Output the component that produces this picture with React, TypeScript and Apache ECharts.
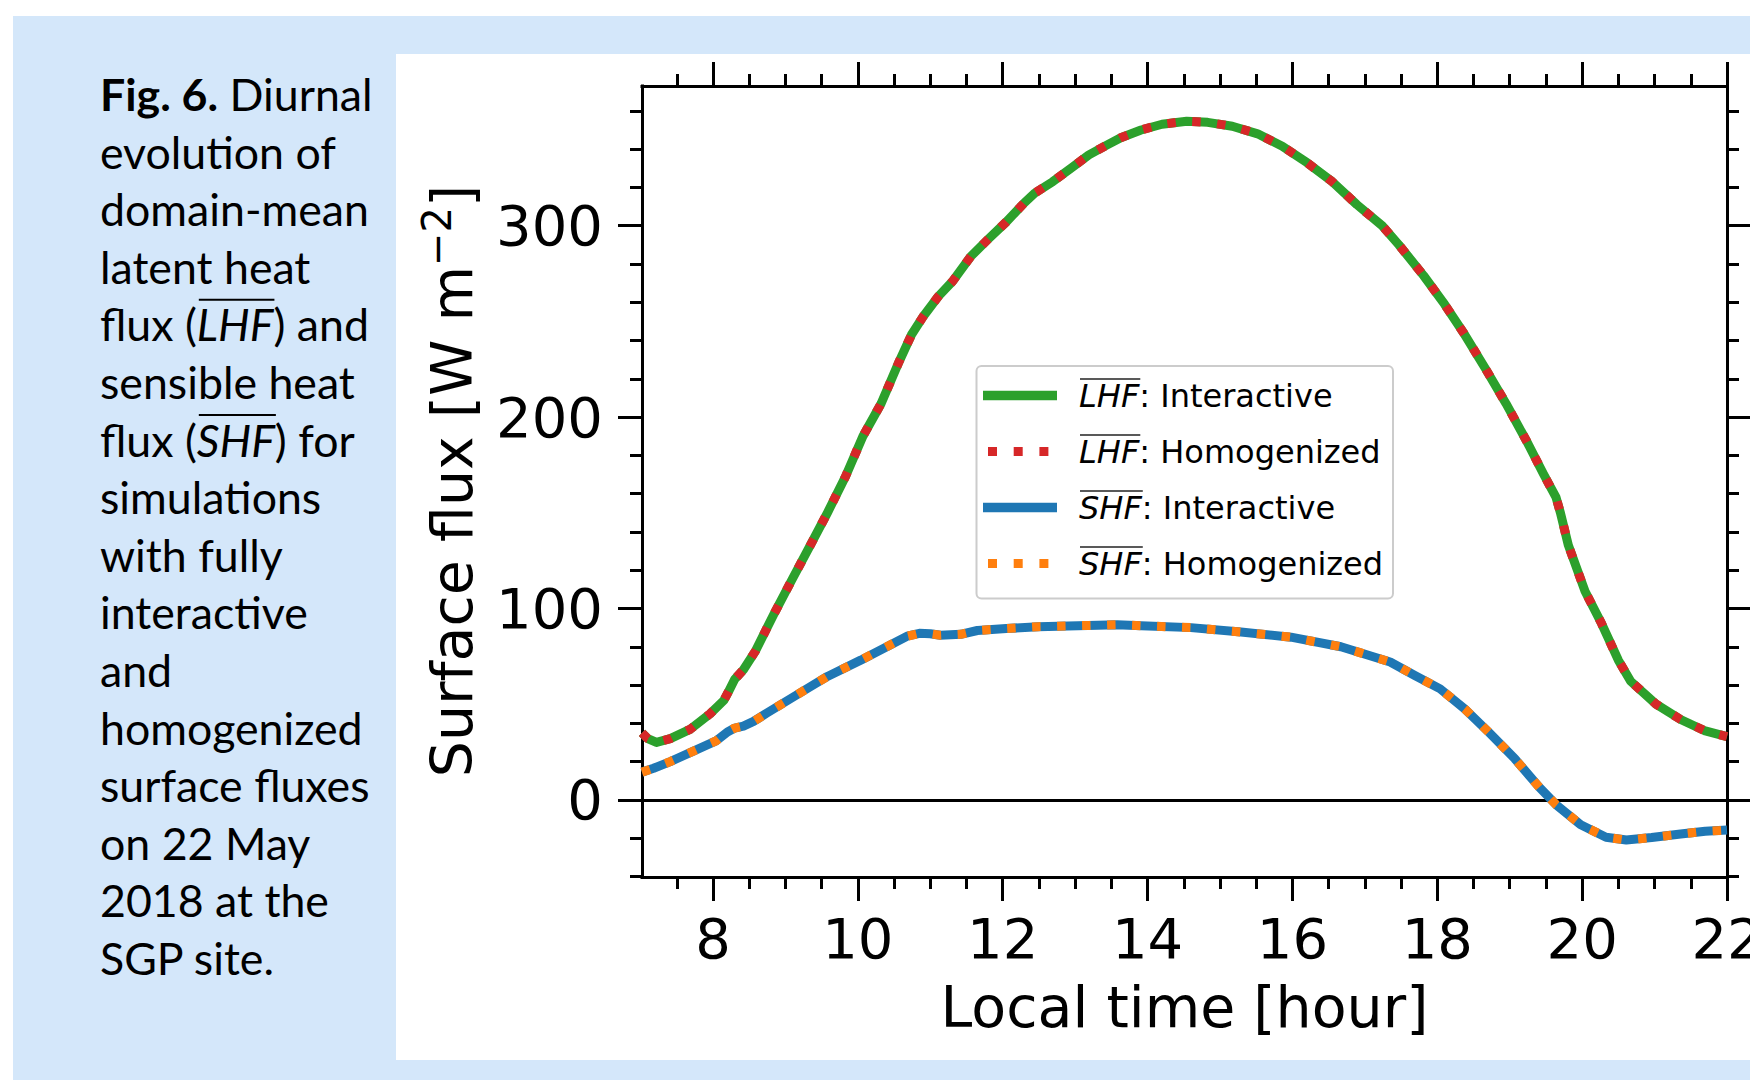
import React, { useEffect, useRef } from 'react';
import * as echarts from 'echarts';

// ---- data ----
const lhfHours = [7.02, 7.1, 7.22, 7.41, 7.69, 7.96, 8.15, 8.22, 8.3, 8.42, 8.59, 8.84, 9.09, 9.33, 9.58, 9.83, 10.07, 10.32, 10.57, 10.74, 10.91, 11.11, 11.31, 11.56, 11.8, 12.05, 12.3, 12.44, 12.69, 12.94, 13.19, 13.43, 13.63, 13.91, 14.2, 14.54, 14.83, 15.17, 15.52, 15.86, 16.2, 16.55, 16.89, 17.24, 17.47, 17.81, 18.1, 18.38, 18.67, 18.95, 19.24, 19.47, 19.64, 19.7, 19.81, 20.04, 20.27, 20.5, 20.67, 21.02, 21.36, 21.7, 22.0];
const lhfInteractive = [35, 32, 30, 32, 37, 45, 52, 57, 63, 68, 78, 97, 115, 132, 150, 169, 190, 207, 229, 243, 253, 263, 271, 284, 293, 302, 312, 317, 323, 330, 337, 342, 346, 350, 353, 354.6, 354, 352, 348, 341.5, 333, 323, 311, 300, 290, 274, 259, 243, 225, 207, 187, 170, 158, 150, 133, 109, 92, 73, 62, 50, 42, 36, 33];
const lhfHomogenized = [35, 32, 30, 32, 37, 45, 52, 57, 63, 68, 78, 97, 115, 132, 150, 169, 190, 207, 229, 243, 253, 263, 271, 284, 293, 302, 312, 317, 323, 330, 337, 342, 346, 350, 353, 354.6, 354, 352, 348, 341.5, 333, 323, 311, 300, 290, 274, 259, 243, 225, 207, 187, 170, 158, 150, 133, 109, 92, 73, 62, 50, 42, 36, 33];

const shfHours = [7.02, 7.18, 7.41, 7.73, 8.05, 8.2, 8.3, 8.42, 8.56, 8.75, 9.12, 9.58, 10.04, 10.5, 10.68, 10.85, 11.0, 11.14, 11.42, 11.65, 12.05, 12.49, 13.04, 13.58, 13.91, 14.6, 15.29, 15.98, 16.67, 17.35, 17.69, 18.04, 18.38, 18.72, 19.07, 19.41, 19.64, 19.98, 20.33, 20.61, 20.96, 21.36, 21.7, 22.0];
const shfInteractive = [14.5, 16.5, 20, 25.5, 31, 35.5, 37.5, 38.5, 41, 45.5, 54, 64.5, 73, 82, 85.5, 87, 86.8, 86, 86.5, 88.5, 89.5, 90.5, 91, 91.5, 91, 90, 87.7, 85, 80, 72, 65, 58, 47.5, 35, 21.5, 6.5, -2.5, -13, -19.5, -21, -19.7, -17.8, -16.4, -15.8];
const shfHomogenized = [14.5, 16.5, 20, 25.5, 31, 35.5, 37.5, 38.5, 41, 45.5, 54, 64.5, 73, 82, 85.5, 87, 86.8, 86, 86.5, 88.5, 89.5, 90.5, 91, 91.5, 91, 90, 87.7, 85, 80, 72, 65, 58, 47.5, 35, 21.5, 6.5, -2.5, -13, -19.5, -21, -19.7, -17.8, -16.4, -15.8];

const xMajorTicks = [8, 10, 12, 14, 16, 18, 20, 22];
const xMinorTicks = [7.5, 8.5, 9, 9.5, 10.5, 11, 11.5, 12.5, 13, 13.5, 14.5, 15, 15.5, 16.5, 17, 17.5, 18.5, 19, 19.5, 20.5, 21, 21.5];
const yMajorTicks = [0, 100, 200, 300];
const yMinorTicks = [-40, -20, 20, 40, 60, 80, 120, 140, 160, 180, 220, 240, 260, 280, 320, 340, 360];

const xLabel = 'Local time [hour]';
const yLabelMain = 'Surface flux [W m';
const yLabelSup = '\u22122';
const legendSymbols = ['LHF', 'LHF', 'SHF', 'SHF'];
const legendLabels = [': Interactive', ': Homogenized', ': Interactive', ': Homogenized'];

const captionLines = [
  'Fig. 6.| Diurnal',
  'evolution of',
  'domain-mean',
  'latent heat',
  'flux (|LHF|) and',
  'sensible heat',
  'flux (|SHF|) for',
  'simulations',
  'with fully',
  'interactive',
  'and',
  'homogenized',
  'surface fluxes',
  'on 22 May',
  '2018 at the',
  'SGP site.',
];

// ---- styling ----
const GREEN = '#2ca02c';
const RED = '#d62728';
const BLUE = '#1f77b4';
const ORANGE = '#ff7f0e';
const BG_BLUE = '#d4e7fa';
const MPL_FONT = 'DejaVu Sans';
const CAP_FONT = 'Lato';

function measure(text: string, font: string): number {
  const ctx = document.createElement('canvas').getContext('2d') as CanvasRenderingContext2D;
  ctx.font = font;
  return ctx.measureText(text).width;
}

const pair = (hs: number[], vs: number[]) => hs.map((h, i) => [h, vs[i]]);

export default function App() {
  const ref = useRef<HTMLDivElement>(null);

  useEffect(() => {
    if (!ref.current) return;
    const chart = echarts.init(ref.current, undefined, { renderer: 'svg' });

    const gridLeft = 642;
    const gridTop = 86;
    const gridRight = 1727;
    const gridBottom = 877;

    const tickFont = 56;
    const titleFont = 57;
    const spine = { color: '#000', width: 3, cap: 'square' as const };

    const xBase = { type: 'value' as const, min: 7.02, max: 22, splitLine: { show: false }, gridIndex: 0 };
    const yBase = { type: 'value' as const, min: -40.3, max: 373, splitLine: { show: false }, gridIndex: 0 };

    const xAxes = [
      {
        ...xBase, position: 'bottom',
        axisLine: { show: true, onZero: false, lineStyle: spine },
        axisTick: { show: true, inside: false, length: 24, customValues: xMajorTicks, lineStyle: { color: '#000', width: 3 } },
        axisLabel: { show: true, customValues: xMajorTicks, margin: 33, fontSize: tickFont, fontFamily: MPL_FONT, color: '#000' },
        name: xLabel, nameLocation: 'middle', nameGap: 101,
        nameTextStyle: { fontSize: titleFont, fontFamily: MPL_FONT, color: '#000' },
      },
      {
        ...xBase, position: 'bottom',
        axisLine: { show: false, onZero: false },
        axisTick: { show: true, inside: false, length: 12, customValues: xMinorTicks, lineStyle: { color: '#000', width: 3 } },
        axisLabel: { show: false },
      },
      {
        ...xBase, position: 'top',
        axisLine: { show: true, onZero: false, lineStyle: spine },
        axisTick: { show: true, inside: false, length: 24, customValues: xMajorTicks, lineStyle: { color: '#000', width: 3 } },
        axisLabel: { show: false },
      },
      {
        ...xBase, position: 'top',
        axisLine: { show: false, onZero: false },
        axisTick: { show: true, inside: false, length: 12, customValues: xMinorTicks, lineStyle: { color: '#000', width: 3 } },
        axisLabel: { show: false },
      },
    ];

    const yAxes = [
      {
        ...yBase, position: 'left',
        axisLine: { show: true, onZero: false, lineStyle: spine },
        axisTick: { show: true, inside: false, length: 24, customValues: yMajorTicks, lineStyle: { color: '#000', width: 3 } },
        axisLabel: { show: true, customValues: yMajorTicks, margin: 39, fontSize: tickFont, fontFamily: MPL_FONT, color: '#000' },
      },
      {
        ...yBase, position: 'left',
        axisLine: { show: false, onZero: false },
        axisTick: { show: true, inside: false, length: 12, customValues: yMinorTicks, lineStyle: { color: '#000', width: 3 } },
        axisLabel: { show: false },
      },
      {
        ...yBase, position: 'right',
        axisLine: { show: true, onZero: false, lineStyle: spine },
        axisTick: { show: true, inside: false, length: 24, customValues: yMajorTicks, lineStyle: { color: '#000', width: 3 } },
        axisLabel: { show: false },
      },
      {
        ...yBase, position: 'right',
        axisLine: { show: false, onZero: false },
        axisTick: { show: true, inside: false, length: 12, customValues: yMinorTicks, lineStyle: { color: '#000', width: 3 } },
        axisLabel: { show: false },
      },
    ];

    const solidW = 9;
    const dotW = 9;
    const dotDash = [8.5, 16.5];

    const lineSeries = (name: string, data: number[][], color: string, dotted: boolean, z: number) => ({
      type: 'line', name, data, xAxisIndex: 0, yAxisIndex: 0,
      showSymbol: false, symbol: 'none', smooth: false, z,
      lineStyle: dotted
        ? { color, width: dotW, type: dotDash, cap: 'butt', join: 'round' }
        : { color, width: solidW, type: 'solid', cap: 'butt', join: 'round' },
      emphasis: { disabled: true },
    });

    // ---- caption ----
    const capFs = (100 * 269) / measure('domain-mean', `100px ${CAP_FONT}`);
    const capFont = `${capFs}px ${CAP_FONT}`;
    const capItalic = `italic ${capFs}px ${CAP_FONT}`;
    const capX = 100;
    const capY0 = 94;
    const capStep = 57.6;

    const graphics: any[] = [];
    graphics.push({ type: 'rect', z: -100, silent: true, shape: { x: 13, y: 16, width: 1750 - 13, height: 1080 - 16 }, style: { fill: BG_BLUE } });
    graphics.push({ type: 'rect', z: -99, silent: true, shape: { x: 396, y: 54, width: 1750 - 396, height: 1060 - 54 }, style: { fill: '#ffffff' } });

    captionLines.forEach((line, i) => {
      const y = capY0 + i * capStep;
      const parts = line.split('|');
      let text = line;
      if (i === 0) {
        text = `{b|${parts[0]}}${parts[1]}`;
      } else if (parts.length === 3) {
        text = `${parts[0]}{i|${parts[1]}}${parts[2]}`;
        const x1 = capX + measure(parts[0], capFont);
        const x2 = x1 + measure(parts[1], capItalic);
        graphics.push({
          type: 'line', z: 10, silent: true,
          shape: { x1: x1 + 2, y1: y - 0.55 * capFs, x2: x2 + 1, y2: y - 0.55 * capFs },
          style: { stroke: '#000', lineWidth: 2 },
        });
      }
      graphics.push({
        type: 'text', z: 10, silent: true, x: capX, y,
        style: {
          text, fontSize: capFs, fontFamily: CAP_FONT, fill: '#000', align: 'left', verticalAlign: 'middle',
          rich: {
            b: { fontSize: capFs, fontFamily: CAP_FONT, fontWeight: 'bold', fill: '#000' },
            i: { fontSize: capFs, fontFamily: CAP_FONT, fontStyle: 'italic', fill: '#000' },
          },
        },
      });
    });

    // ---- y axis title ----
    graphics.push({
      type: 'text', z: 10, silent: true, x: 452, y: 481, rotation: Math.PI / 2,
      style: {
        text: `${yLabelMain}{sup|${yLabelSup}}]`,
        fontSize: titleFont, fontFamily: MPL_FONT, fill: '#000', align: 'center', verticalAlign: 'middle', lineHeight: 70,
        rich: {
          sup: { fontSize: 40, fontFamily: MPL_FONT, fill: '#000', lineHeight: 40, verticalAlign: 'top' },
        },
      },
    });

    // ---- legend ----
    const legX = 976.5, legY = 366, legW = 416.5, legH = 232.5;
    graphics.push({
      type: 'rect', z: 50, silent: true,
      shape: { x: legX, y: legY, width: legW, height: legH, r: 5 },
      style: { fill: 'rgba(255,255,255,0.8)', stroke: '#cccccc', lineWidth: 2 },
    });
    const legColors = [GREEN, RED, BLUE, ORANGE];
    const legFs = 32;
    legendSymbols.forEach((sym, i) => {
      const cy = 395.5 + i * 56;
      const dotted = i % 2 === 1;
      graphics.push({
        type: 'line', z: 51, silent: true,
        shape: { x1: dotted ? 988 : 983, y1: cy, x2: 1057, y2: cy },
        style: dotted
          ? { stroke: legColors[i], lineWidth: dotW, lineDash: [9, 16.7], lineCap: 'butt' }
          : { stroke: legColors[i], lineWidth: solidW + 0.5, lineCap: 'butt' },
      });
      const tx = 1079;
      graphics.push({
        type: 'text', z: 51, silent: true, x: tx, y: cy,
        style: {
          text: `{i|${sym}}${legendLabels[i]}`,
          fontSize: legFs, fontFamily: MPL_FONT, fill: '#000', align: 'left', verticalAlign: 'middle',
          rich: { i: { fontSize: legFs, fontFamily: MPL_FONT, fontStyle: 'italic', fill: '#000' } },
        },
      });
      const w = measure(sym, `italic ${legFs}px "${MPL_FONT}"`);
      graphics.push({
        type: 'line', z: 51, silent: true,
        shape: { x1: tx + 1, y1: cy - 16.5, x2: tx + w + 1, y2: cy - 16.5 },
        style: { stroke: '#222', lineWidth: 1.6 },
      });
    });

    const option: any = {
      animation: false,
      backgroundColor: '#ffffff',
      grid: {
        left: gridLeft, top: gridTop, width: gridRight - gridLeft, height: gridBottom - gridTop,
        containLabel: false, outerBoundsMode: 'none',
      },
      xAxis: xAxes,
      yAxis: yAxes,
      series: [
        {
          type: 'line', name: 'zero', data: [], xAxisIndex: 0, yAxisIndex: 0, z: 1,
          markLine: {
            silent: true, symbol: ['none', 'none'], label: { show: false },
            lineStyle: { color: '#000', width: 3, type: 'solid' },
            emphasis: { disabled: true },
            data: [{ yAxis: 0 }],
          },
        },
        lineSeries('LHF: Interactive', pair(lhfHours, lhfInteractive), GREEN, false, 3),
        lineSeries('LHF: Homogenized', pair(lhfHours, lhfHomogenized), RED, true, 4),
        lineSeries('SHF: Interactive', pair(shfHours, shfInteractive), BLUE, false, 5),
        lineSeries('SHF: Homogenized', pair(shfHours, shfHomogenized), ORANGE, true, 6),
      ],
      graphic: { elements: graphics },
    };

    chart.setOption(option);
    return () => chart.dispose();
  }, []);

  return (
    <div
      ref={ref}
      style={{ position: 'fixed', left: 0, top: 0, width: 1750, height: 1080, background: '#ffffff' }}
    />
  );
}
